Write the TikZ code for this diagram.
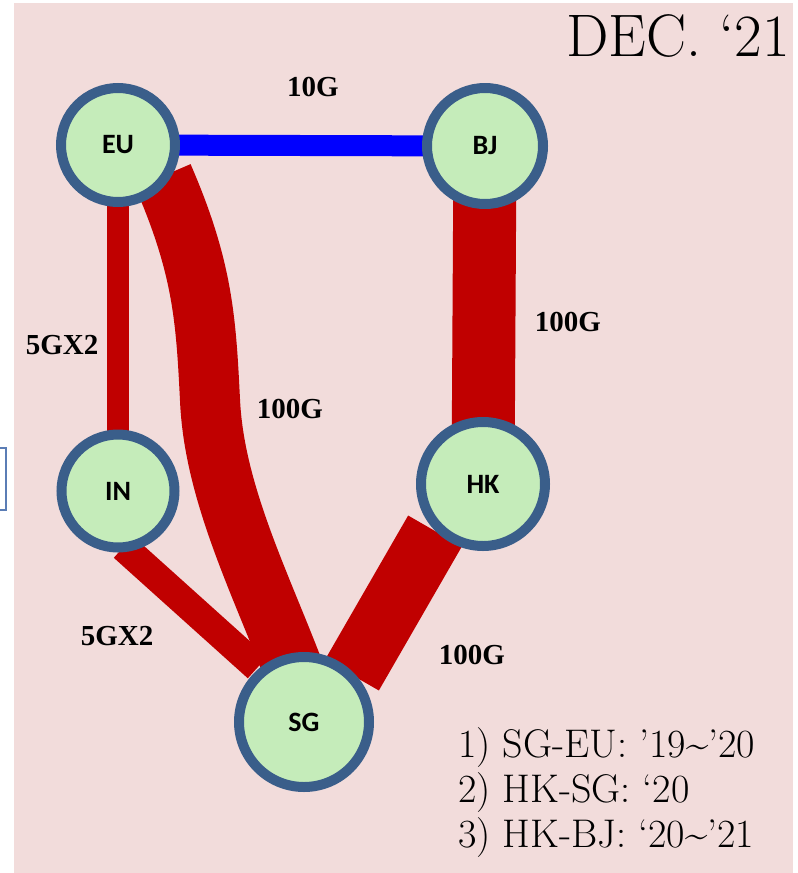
\documentclass[tikz,border=0pt]{standalone}
\usepackage{fontspec}
\usetikzlibrary{calc}
\newfontfamily\lblfont{Liberation Serif}
\newfontfamily\hubfont{Carlito}
\definecolor{pinkbg}{RGB}{242,220,219}
\definecolor{linkred}{RGB}{192,0,0}
\definecolor{linkblue}{RGB}{0,0,255}
\definecolor{hubfill}{RGB}{197,236,186}
\definecolor{hubline}{RGB}{58,94,138}
\definecolor{boxline}{RGB}{91,125,181}
\pgfdeclarelayer{back}
\pgfdeclarelayer{edges}
\pgfsetlayers{back,edges,main}
\tikzset{
  hub/.style={circle, draw=hubline, fill=hubfill, line width=10pt, inner sep=0pt,
    font=\hubfont\bfseries\fontsize{28}{30}\selectfont},
  redlink/.style={draw=linkred, line cap=butt},
  bluelink/.style={draw=linkblue, line cap=butt},
  bwlabel/.style={font=\lblfont\bfseries\fontsize{29}{32}\selectfont, inner sep=0pt},
  legend/.style={font=\fontsize{40}{46}\selectfont, anchor=base west, inner sep=0pt},
}
\begin{document}
\begin{tikzpicture}[x=1pt,y=-1pt]
\useasboundingbox (0,0) rectangle (798,873);
\begin{pgfonlayer}{back}
  \fill[pinkbg] (14,3) rectangle (793,873);
  \draw[boxline, line width=1.5pt, fill=white] (-5,448) rectangle (6,510);
\end{pgfonlayer}

% hubs
\node[hub, minimum size=114pt] (EU) at (118,145) {EU};
\node[hub, minimum size=116pt] (BJ) at (485,146) {BJ};
\node[hub, minimum size=113pt] (IN) at (118,491) {IN};
\node[hub, minimum size=124pt] (HK) at (483,484) {HK};
\node[hub, minimum size=130pt] (SG) at (304,722) {SG};

% link end points
\coordinate (hkA) at ($(HK)+(-48,47)$);
\coordinate (sgA) at ($(SG)+(48,-47)$);
\coordinate (inA) at ($(IN)+(5.5,56)$);
\coordinate (sgB) at ($(SG)+(-46.5,-54.5)$);
\coordinate (euA) at ($(EU)+(45,31)$);
\coordinate (mid) at (210,400);
\coordinate (sgC) at ($(SG)+(-12,-56)$);

\begin{pgfonlayer}{edges}
  \draw[bluelink, line width=21pt] (EU.center) -- (BJ.center);
  \draw[redlink, line width=22pt] (EU.center) -- (IN.center);
  \draw[redlink, line width=63pt] (BJ.center) -- (HK.center);
  \draw[redlink, line width=62pt] (hkA) -- (sgA);
  \draw[redlink, line width=29pt] (inA) -- (sgB);
  \draw[redlink, line width=60pt] (euA) .. controls (203,268) and (206,320) .. (mid)
        .. controls (214,490) and (258,578) .. (sgC);
\end{pgfonlayer}

% link labels
\node[bwlabel] (l1) at (313,87) {10G};
\node[bwlabel] (l2) at (568,322) {100G};
\node[bwlabel] (l3) at (62,345) {5GX2};
\node[bwlabel] (l4) at (290,409) {100G};
\node[bwlabel] (l5) at (117,636) {5GX2};
\node[bwlabel] (l6) at (472,655) {100G};

% title
\node[font=\fontsize{60}{66}\selectfont, anchor=base east, inner sep=0pt] (title) at (790,56) {DEC. ‘21};

% legend
\node[legend] (g1) at (458,757) {1) SG-EU: ’19\textasciitilde’20};
\node[legend] (g2) at (458,802) {2) HK-SG: ‘20};
\node[legend] (g3) at (458,847) {3) HK-BJ: ‘20\textasciitilde’21};
\end{tikzpicture}
\end{document}
